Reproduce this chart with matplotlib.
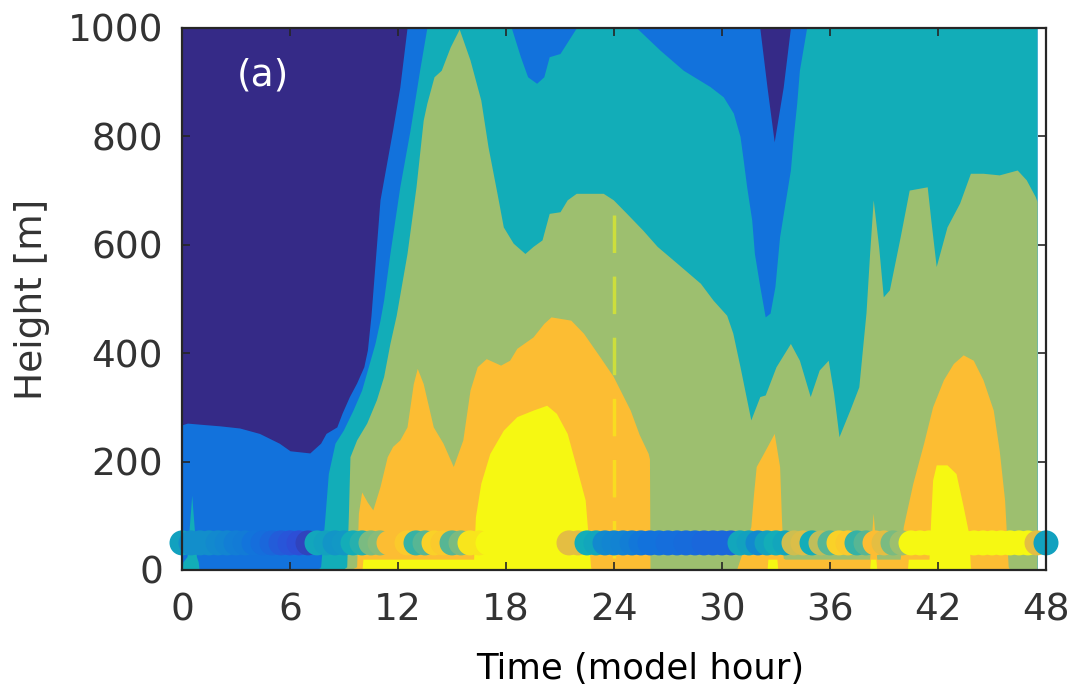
import numpy as np
import matplotlib
matplotlib.use('Agg')
import matplotlib.pyplot as plt
from matplotlib.colors import LinearSegmentedColormap

plt.rcParams['font.family'] = ['DejaVu Sans']
plt.rcParams['lines.scale_dashes'] = False

# model field, read as the top of each colour band (hour, height in m)
model_span = [0, 47.5]
top_model = 1000

blue_hour = [0, 0.3, 1.0, 2.1, 3.2, 4.3, 5.4, 6.0, 7.1, 7.7, 8.0, 8.6, 8.9, 9.3, 9.7, 10.1, 10.3,
             10.5, 11.0, 11.7, 12.1, 12.5, 32.1, 32.5, 32.9, 33.4, 33.8, 47.5]
blue_top = [268, 271, 269, 266, 262, 252, 234, 220, 216, 234, 252, 264, 290, 320, 345, 375, 406,
            470, 683, 812, 891, 1000, 1000, 891, 790, 891, 1000, 1000]

teal_hour = [0, 0.05, 0.28, 0.54, 0.8, 0.9, 0.95, 7.5, 7.7, 7.94, 8.13, 8.5, 8.96, 9.5, 9.98, 10.35,
             10.72, 11.0, 11.2, 11.55, 12.1, 12.67, 13.2, 13.6, 18.3, 18.8, 19.2, 19.7, 20.1, 20.4,
             21.0, 21.9, 25.26, 26.56, 27.85, 29.33, 30.07, 30.63, 31.0, 31.18, 31.37, 31.65, 31.8,
             32.1, 32.4, 32.67, 32.94, 33.2, 33.5, 33.8, 33.96, 34.15, 34.3, 34.7, 47.5]
teal_top = [0, 15, 25, 138, 25, 15, 0, 0, 6, 98, 178, 234, 258, 295, 332, 375,
            418, 461, 498, 584, 707, 812, 922, 1000, 1000, 947, 910, 898, 910, 947,
            953, 1000, 1000, 959, 922, 892, 873, 843, 800, 756, 707, 646, 584,
            523, 467, 474, 523, 615, 677, 738, 800, 861, 922, 1000, 1000]

green_hour = [0, 8.9, 9.15, 9.24, 9.33, 9.7, 10.26, 10.8, 11.2, 11.55, 11.9, 12.5, 13.0, 13.4, 13.6,
              14.0, 14.4, 14.9, 15.4, 16.0, 16.6, 17.0, 17.5, 17.85, 18.4, 19.05, 19.5, 20.0, 20.4,
              21.0, 21.4, 21.9, 23.4, 23.96, 24.7, 25.6, 26.4, 27.5, 28.8, 29.5, 30.26, 30.6, 31.0,
              31.6, 32.1, 32.4, 33.0, 33.8, 34.3, 34.9, 35.4, 35.9, 36.2, 36.5, 37.1, 37.6, 37.85,
              38.0, 38.2, 38.4, 38.7, 38.96, 39.3, 39.9, 40.4, 41.4, 41.6, 41.9, 42.5, 43.2, 43.8,
              44.5, 45.4, 46.4, 46.9, 47.4, 47.5]
green_top = [0, 0, 6, 98, 209, 240, 271, 314, 357, 418, 470, 584, 707, 830, 861,
             910, 922, 965, 998, 941, 867, 781, 695, 633, 603, 584, 597, 609, 658,
             661, 683, 695, 695, 683, 658, 627, 597, 566, 529, 498, 470, 437, 375,
             277, 320, 323, 375, 418, 387, 320, 369, 387, 326, 246, 295, 338, 424,
             475, 584, 683, 597, 504, 517, 615, 701, 707, 646, 560, 633, 677, 732,
             732, 729, 738, 720, 689, 680]

orange_hour = [0, 9.3, 9.7, 9.8, 9.98, 10.3, 10.6, 11.0, 11.4, 11.7, 12.1, 12.5, 12.85, 13.07, 13.4,
               13.96, 14.5, 15.07, 15.6, 16.0, 16.4, 16.9, 17.7, 18.2, 18.6, 19.5, 20.1, 20.5, 21.6,
               22.3, 23.2, 23.96, 24.9, 25.4, 25.9, 25.97, 26.0, 30.8, 31.6, 31.75, 31.9, 32.3, 32.9,
               33.2, 33.3, 33.4, 33.5, 38.2, 38.3, 38.4, 38.5, 38.6, 39.9, 40.07, 40.6, 41.2, 41.7,
               42.3, 42.85, 43.4, 43.96, 44.5, 45.07, 45.4, 45.7, 45.9, 46.0, 47.5]
orange_top = [0, 0, 6, 105, 144, 125, 111, 154, 209, 228, 240, 264, 344, 372, 344,
              264, 234, 191, 240, 332, 375, 390, 378, 387, 409, 430, 455, 467, 461,
              437, 394, 357, 295, 250, 215, 205, 0, 0, 80, 140, 191, 215, 252,
              191, 98, 22, 20, 20, 60, 105, 60, 20, 20, 80, 160, 234, 301,
              351, 381, 397, 387, 351, 295, 221, 129, 6, 0, 0]

yellow_hour = [0, 10.0, 10.05, 16.2, 16.3, 16.6, 17.1, 17.85, 18.6, 19.5, 20.26, 20.8, 21.4, 21.9,
               22.4, 22.7, 22.75, 32.5, 32.55, 33.05, 33.1, 38.2, 38.25, 38.55, 38.6, 40.3, 40.35,
               41.5, 41.6, 41.7, 41.9, 42.5, 43.0, 43.4, 43.7, 43.8, 43.85, 47.5]
yellow_top = [0, 0, 20, 20, 98, 160, 215, 258, 283, 295, 304, 289, 252, 191,
              129, 6, 0, 0, 20, 20, 0, 0, 20, 20, 0, 0, 20,
              20, 98, 166, 194, 194, 178, 117, 68, 6, 0, 0]

# observations at the 50 m level (scaled 0-1 on the colour scale)
obs_height = 50
obs_hour = [0, 0.5, 1, 1.5, 2, 2.5, 3, 3.5, 4, 4.5, 5, 5.5, 6, 6.5, 7, 7.5, 8, 8.5, 9, 9.5,
            10, 10.5, 11, 11.5, 12, 12.5, 13, 13.5, 14, 14.5, 15, 15.5, 16, 16.5, 17, 17.5,
            18, 18.5, 19, 19.5, 20, 20.5, 21, 21.5, 22, 22.5, 23, 23.5, 24, 24.5, 25, 25.5,
            26, 26.5, 27, 27.5, 28, 28.5, 29, 29.5, 30, 30.5, 31, 31.5, 32, 32.5, 33, 33.5,
            34, 34.5, 35, 35.5, 36, 36.5, 37, 37.5, 38, 38.5, 39, 39.5, 40, 40.5, 41, 41.5,
            42, 42.5, 43, 43.5, 44, 44.5, 45, 45.5, 46, 46.5, 47, 47.5, 48]
obs_value = [0.40, 0.32, 0.32, 0.32, 0.30, 0.28, 0.25, 0.24, 0.21, 0.19, 0.17, 0.14, 0.12, 0.10,
             0.07, 0.42, 0.40, 0.35, 0.36, 0.45, 0.48, 0.60, 0.62, 0.85, 0.85, 0.88, 0.50, 0.55,
             0.90, 0.88, 0.55, 0.60, 0.95, 0.95, 1.0, 1.0, 1.0, 1.0, 1.0, 1.0, 1.0, 1.0,
             1.0, 0.80, 0.80, 0.45, 0.42, 0.30, 0.28, 0.27, 0.25, 0.22, 0.20, 0.20, 0.19, 0.19,
             0.18, 0.18, 0.17, 0.17, 0.17, 0.17, 0.42, 0.40, 0.30, 0.40, 0.45, 0.42, 0.75, 0.78,
             0.45, 0.72, 0.55, 0.90, 0.88, 0.50, 0.55, 0.85, 0.80, 0.60, 0.65, 1.0, 1.0, 1.0,
             1.0, 1.0, 1.0, 1.0, 1.0, 1.0, 1.0, 1.0, 1.0, 1.0, 1.0, 0.80, 0.40]

marker_hour = 24
marker_top = 655

navy, blue, teal, green, orange, yellow = '#352a87', '#1272dc', '#12adb8', '#9dbf6f', '#fcbd33', '#f6f812'
cmap = LinearSegmentedColormap.from_list(
    'parula6', [(0, navy), (0.1, '#2d4fd8'), (0.2, blue), (0.45, teal), (0.65, green), (0.85, orange), (1, yellow)])

fig = plt.figure(figsize=(10.73, 6.91), dpi=100)
ax = fig.add_axes([182 / 1073, 1 - 570 / 691, 864 / 1073, 542 / 691])

ax.fill_between(model_span, 0, top_model, color=navy, lw=0)
layers = [(blue_hour, blue_top, blue), (teal_hour, teal_top, teal), (green_hour, green_top, green),
          (orange_hour, orange_top, orange), (yellow_hour, yellow_top, yellow)]
for hrs, tops, col in layers:
    ax.fill_between(hrs, 0, tops, color=col, lw=0)

ax.plot([marker_hour, marker_hour], [marker_top, 0], color=yellow, alpha=0.55, lw=2.5, dashes=(27, 17))

ax.scatter(obs_hour, [obs_height] * len(obs_hour), c=obs_value, cmap=cmap, vmin=0, vmax=1,
           s=324, linewidths=0, clip_on=False, zorder=4)

ax.text(0.0637, 0.913, '(a)', transform=ax.transAxes, ha='left', va='center', color='white', fontsize=27)

ax.set_xlim(0, 48)
ax.set_ylim(0, 1000)
ax.set_xticks([0, 6, 12, 18, 24, 30, 36, 42, 48])
ax.set_yticks([0, 200, 400, 600, 800, 1000])
ax.tick_params(direction='in', top=True, right=True, length=6, width=1.2, colors='#262626',
               labelsize=27, labelcolor='#333333')
ax.tick_params(axis='x', pad=16)
ax.tick_params(axis='y', pad=13.7)
for sp in ax.spines.values():
    sp.set_linewidth(1.6)
    sp.set_color('#262626')
    sp.set_zorder(5)

ax.set_ylabel('Height [m]', fontsize=27, color='#333333')
ax.yaxis.set_label_coords((50 - 182) / 864, 0.5)
ax.set_xlabel('Time (model hour)', fontsize=25.5, color='black')
ax.xaxis.set_label_coords(0.530, (570 - 652) / 542)

fig.savefig('out.png', dpi=100)
